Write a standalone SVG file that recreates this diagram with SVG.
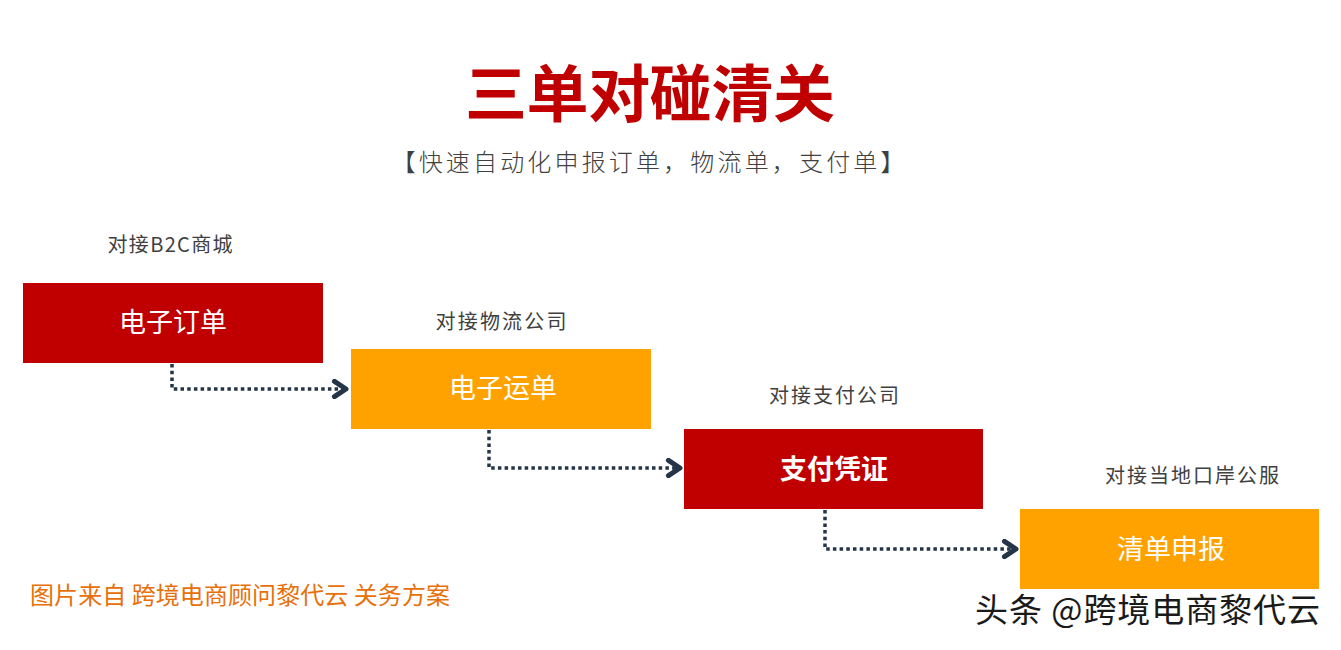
<svg xmlns="http://www.w3.org/2000/svg" width="1341" height="650" viewBox="0 0 1341 650">
<defs>
<style>
.cjk{font-family:"Noto Sans CJK SC","Noto Sans",sans-serif;}
.title{font-size:62px;font-weight:bold;fill:#C00000;}
.sub{font-size:24px;font-weight:300;fill:#404040;}
.lab{font-size:20px;fill:#404040;}
.ntxt{font-size:27px;fill:#FFFFFF;}
.red{fill:#C00000;}
.org{fill:#FFA200;}
.conn{fill:none;stroke:#253548;stroke-width:3.5;stroke-dasharray:3.5 3.2;}
.foot{font-size:24px;fill:#E8700A;}
.wm{font-size:33px;fill:#1a1a1a;stroke:#ffffff;stroke-width:3;paint-order:stroke;}
</style>
<marker id="chev" viewBox="0 0 10 10" refX="8" refY="5" markerWidth="5.5" markerHeight="5.5" markerUnits="strokeWidth" orient="auto">
<path d="M2,1 L8,5 L2,9" fill="none" stroke="#253548" stroke-width="2.6" stroke-linecap="round" stroke-linejoin="round"/>
</marker>
</defs>
<rect width="1341" height="650" fill="#FFFFFF"/>
<g id="title">
<text class="cjk title" x="650" y="117" text-anchor="middle" textLength="370">三单对碰清关</text>
<text class="cjk sub" x="648" y="171" text-anchor="middle" textLength="513">【快速自动化申报订单，物流单，支付单】</text>
</g>
<g id="connectors">
<path class="conn" d="M172,364 V389 H346" marker-end="url(#chev)"/>
<path class="conn" d="M489,430 V468 H680" marker-end="url(#chev)"/>
<path class="conn" d="M825,510 V549 H1016" marker-end="url(#chev)"/>
</g>
<g id="node1">
<text class="cjk lab" x="170" y="252" text-anchor="middle" textLength="125">对接B2C商城</text>
<rect class="red" x="23" y="283" width="300" height="80"/>
<text class="cjk ntxt" x="173" y="332" text-anchor="middle">电子订单</text>
</g>
<g id="node2">
<text class="cjk lab" x="501" y="329" text-anchor="middle" textLength="131">对接物流公司</text>
<rect class="org" x="351" y="349" width="300" height="80"/>
<text class="cjk ntxt" x="503" y="398" text-anchor="middle">电子运单</text>
</g>
<g id="node3">
<text class="cjk lab" x="834" y="403" text-anchor="middle" textLength="130">对接支付公司</text>
<rect class="red" x="684" y="429" width="299" height="80"/>
<text class="cjk ntxt" x="834" y="479" text-anchor="middle" font-weight="bold">支付凭证</text>
</g>
<g id="node4">
<text class="cjk lab" x="1192" y="483" text-anchor="middle" textLength="174">对接当地口岸公服</text>
<rect class="org" x="1020" y="509" width="299" height="80"/>
<text class="cjk ntxt" x="1171" y="559" text-anchor="middle">清单申报</text>
</g>
<g id="footer">
<text class="cjk foot" x="30" y="604" textLength="420">图片来自 跨境电商顾问黎代云 关务方案</text>
<text class="cjk wm" x="975" y="622" textLength="345">头条 @跨境电商黎代云</text>
</g>
</svg>
